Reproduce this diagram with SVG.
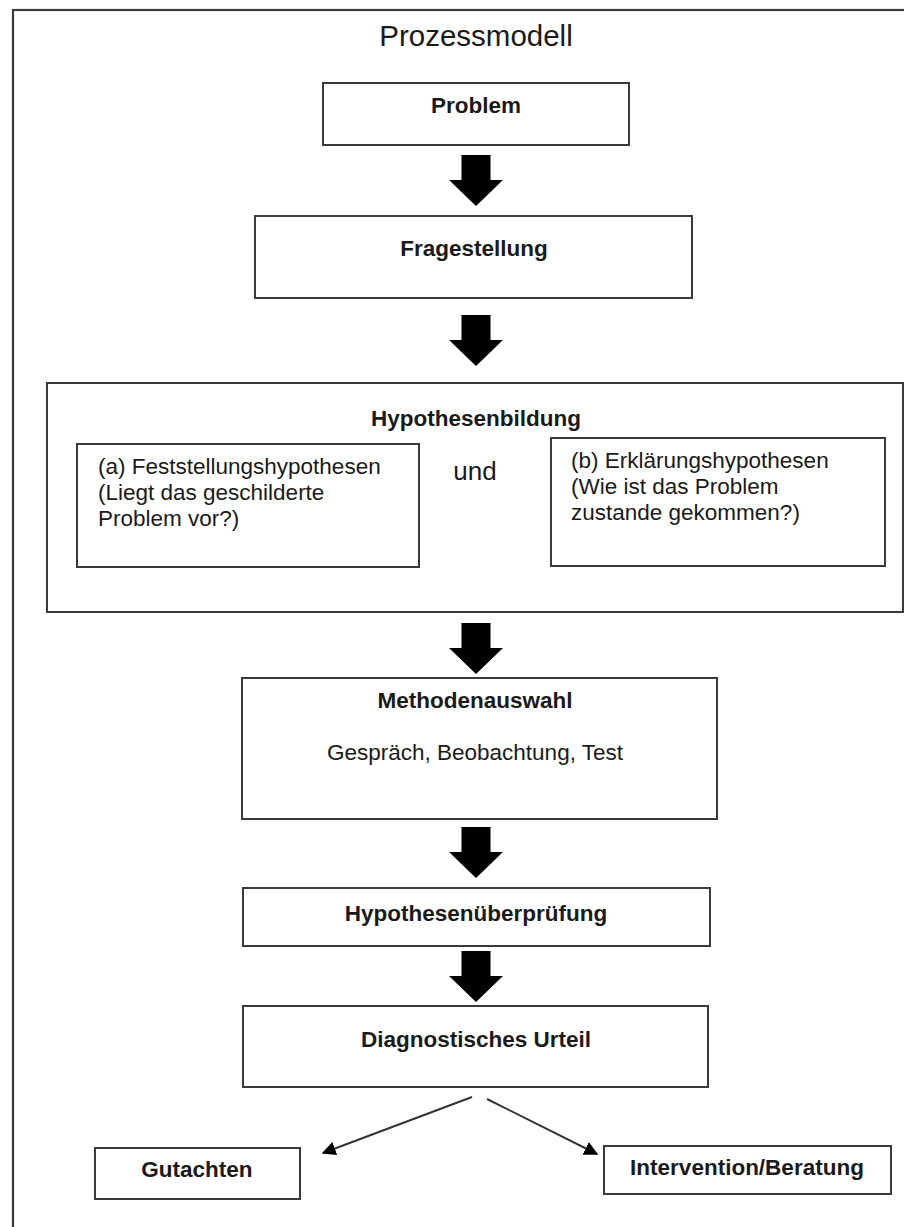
<svg xmlns="http://www.w3.org/2000/svg" xmlns:xlink="http://www.w3.org/1999/xlink" width="904" height="1227" viewBox="0 0 904 1227">
<style>
.box{fill:#fff;stroke:#3a3a3a;stroke-width:2}
.t{font-family:"Liberation Sans",Arial,sans-serif;fill:#1a1a1a}
.b{font-weight:bold;font-size:22.5px;text-anchor:middle}
.r{font-size:22.5px}
.c{text-anchor:middle}
.ln{stroke:#333;stroke-width:2;fill:none}
</style>
<defs>
<path id="blk" d="M-14.5,0 H14.5 V25 H27 L0,51 L-27,25 H-14.5 Z" fill="#000"/>
<marker id="tri" viewBox="0 0 10 10" refX="10" refY="5" markerWidth="7" markerHeight="7" markerUnits="userSpaceOnUse" orient="auto">
<path d="M0,0 L10,5 L0,10 Z" fill="#000"/>
</marker>
<marker id="tri2" viewBox="0 0 10 10" refX="9" refY="5" markerWidth="14" markerHeight="14" markerUnits="userSpaceOnUse" orient="auto">
<path d="M0,0 L10,5 L0,10 Z" fill="#000"/>
</marker>
</defs>
<rect width="904" height="1227" fill="#fff"/>
<rect x="13" y="10" width="920" height="1240" fill="none" stroke="#3a3a3a" stroke-width="2.2"/>
<text class="t c" x="476" y="46" font-size="29.5">Prozessmodell</text>

<g id="problem">
<rect class="box" x="323" y="83" width="306" height="62"/>
<text class="t b" x="476" y="113">Problem</text>
</g>
<g id="fragestellung">
<rect class="box" x="255" y="216" width="437" height="82"/>
<text class="t b" x="474" y="256">Fragestellung</text>
</g>
<g id="hypothesenbildung">
<rect class="box" x="47" y="383" width="856" height="229"/>
<text class="t b" x="476" y="426">Hypothesenbildung</text>
<g id="feststellung">
<rect class="box" x="77" y="444" width="342" height="123"/>
<text class="t r" x="98" y="474">(a) Feststellungshypothesen</text>
<text class="t r" x="98" y="500">(Liegt das geschilderte</text>
<text class="t r" x="98" y="526">Problem vor?)</text>
</g>
<text class="t c" x="475" y="480" font-size="26">und</text>
<g id="erklaerung">
<rect class="box" x="551" y="438" width="334" height="128"/>
<text class="t r" x="571" y="468">(b) Erklärungshypothesen</text>
<text class="t r" x="571" y="494">(Wie ist das Problem</text>
<text class="t r" x="571" y="520">zustande gekommen?)</text>
</g>
</g>
<g id="methodenauswahl">
<rect class="box" x="242" y="678" width="475" height="141"/>
<text class="t b" x="475" y="708">Methodenauswahl</text>
<text class="t r c" x="475" y="760">Gespräch, Beobachtung, Test</text>
</g>
<g id="hypothesenueberpruefung">
<rect class="box" x="243" y="888" width="467" height="58"/>
<text class="t b" x="476" y="921">Hypothesenüberprüfung</text>
</g>
<g id="urteil">
<rect class="box" x="243" y="1006" width="465" height="81"/>
<text class="t b" x="476" y="1047">Diagnostisches Urteil</text>
</g>
<g id="gutachten">
<rect class="box" x="95" y="1148" width="205" height="51"/>
<text class="t b" x="197" y="1177">Gutachten</text>
</g>
<g id="intervention">
<rect class="box" x="604" y="1146" width="287" height="48"/>
<text class="t b" x="747" y="1175">Intervention/Beratung</text>
</g>

<g id="connectors">
<use xlink:href="#blk" x="476" y="155"/>
<use xlink:href="#blk" x="476" y="315"/>
<use xlink:href="#blk" x="476" y="623"/>
<use xlink:href="#blk" x="476" y="827"/>
<use xlink:href="#blk" x="476" y="951"/>
<line class="ln" x1="472" y1="1097" x2="323" y2="1153" marker-end="url(#tri2)"/>
<line class="ln" x1="487" y1="1099" x2="597" y2="1154" marker-end="url(#tri2)"/>
</g>
</svg>
